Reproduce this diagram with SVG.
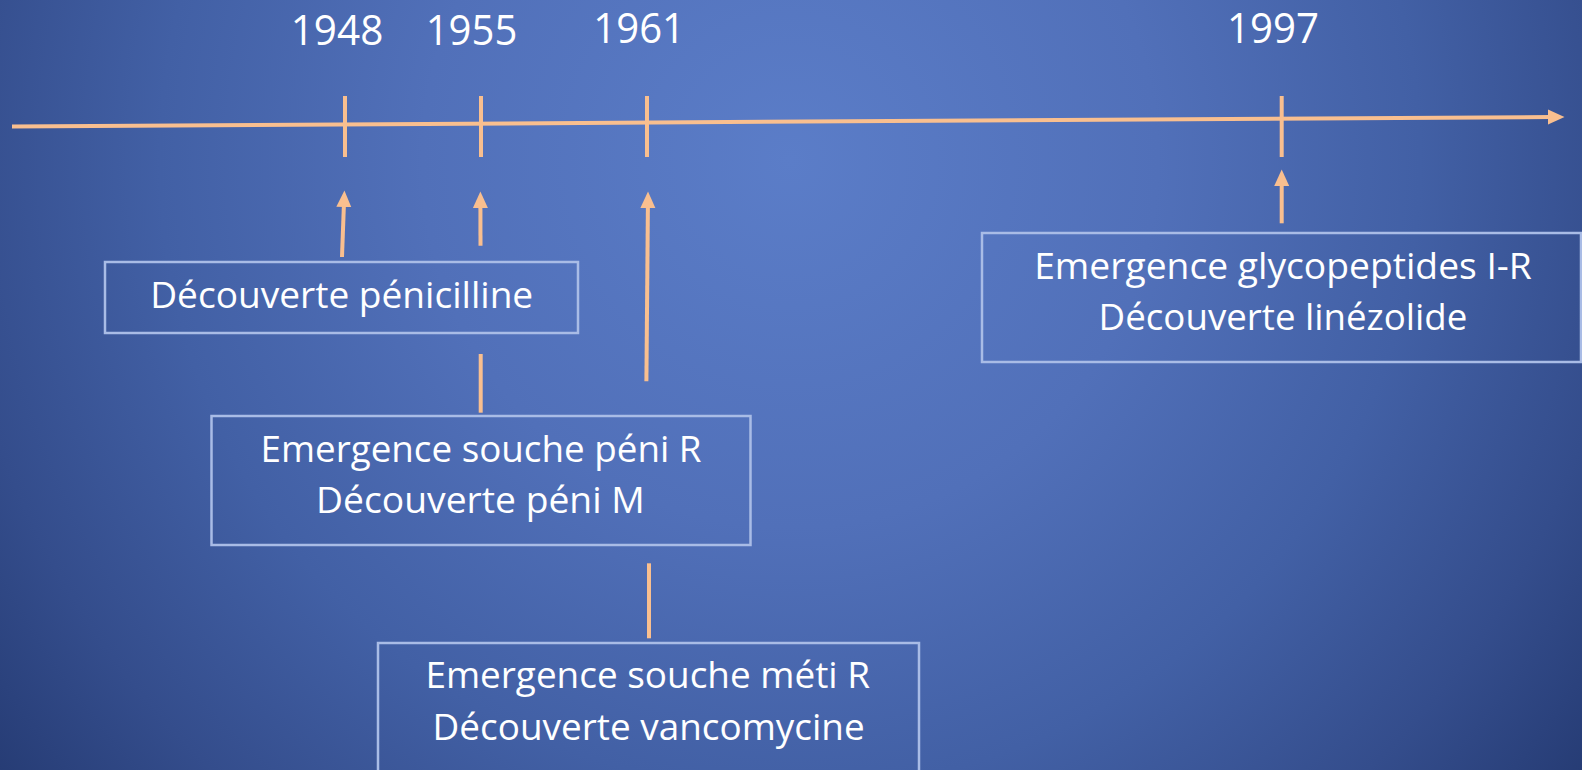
<svg xmlns="http://www.w3.org/2000/svg" width="1582" height="770" viewBox="0 0 1582 770">
  <defs>
    <radialGradient id="bg" gradientUnits="userSpaceOnUse" cx="790" cy="160" r="1050">
      <stop offset="0" stop-color="#5b7dc8"/>
      <stop offset="0.35" stop-color="#5170b9"/>
      <stop offset="0.6" stop-color="#4260a5"/>
      <stop offset="0.8" stop-color="#344d8c"/>
      <stop offset="1" stop-color="#22376e"/>
    </radialGradient>
    <marker id="ah" markerUnits="userSpaceOnUse" markerWidth="17" markerHeight="16" viewBox="0 0 17 16" refX="2" refY="8" orient="auto">
      <path d="M0,0.5 L16.5,8 L0,15.5 Z" fill="#f9bf8f"/>
    </marker>
    <style>
      .yr { font-family: "Open Sans", "Noto Sans", sans-serif; font-size: 42px; fill: #ffffff; }
      .lbl { font-family: "Open Sans", "Noto Sans", sans-serif; font-size: 36px; fill: #ffffff; }
      .box { fill: none; stroke: #a9bce6; stroke-width: 2.5; }
      .ln { stroke: #f9bf8f; stroke-width: 4; fill: none; }
      .arr { stroke: #f9bf8f; stroke-width: 4; fill: none; marker-end: url(#ah); }
    </style>
  </defs>
  <rect x="0" y="0" width="1582" height="770" fill="url(#bg)"/>

  <g id="years">
    <text class="yr" x="290.7" y="45" textLength="92.6" lengthAdjust="spacingAndGlyphs">1948</text>
    <text class="yr" x="425.7" y="45" textLength="91.6" lengthAdjust="spacingAndGlyphs">1955</text>
    <text class="yr" x="593.3" y="43.3" textLength="91.7" lengthAdjust="spacingAndGlyphs">1961</text>
    <text class="yr" x="1227" y="43.3" textLength="92" lengthAdjust="spacingAndGlyphs">1997</text>
  </g>

  <g id="connectors">
    <line class="arr" x1="12" y1="126.5" x2="1550" y2="117"/>
    <line class="ln" x1="345" y1="96" x2="345" y2="157"/>
    <line class="ln" x1="481" y1="96" x2="481" y2="157"/>
    <line class="ln" x1="647" y1="96" x2="647" y2="157"/>
    <line class="ln" x1="1281.7" y1="96" x2="1281.7" y2="157"/>
    <line class="arr" x1="342" y1="257" x2="343.9" y2="205"/>
    <line class="arr" x1="480.5" y1="245.7" x2="480.4" y2="206"/>
    <line class="arr" x1="646.4" y1="381.3" x2="647.9" y2="206"/>
    <line class="arr" x1="1281.7" y1="223.3" x2="1281.7" y2="184"/>
    <line class="ln" x1="480.7" y1="354" x2="480.7" y2="412.7"/>
    <line class="ln" x1="649" y1="563.3" x2="649" y2="638.3"/>
  </g>

  <g id="node-penicilline">
    <rect class="box" x="105" y="262" width="473" height="71"/>
    <text class="lbl" x="150.2" y="308" textLength="383" lengthAdjust="spacingAndGlyphs">Découverte pénicilline</text>
  </g>

  <g id="node-peni-r">
    <rect class="box" x="211.5" y="416" width="539" height="129"/>
    <text class="lbl" x="260.5" y="462" textLength="441" lengthAdjust="spacingAndGlyphs">Emergence souche péni R</text>
    <text class="lbl" x="316.1" y="513" textLength="328.6" lengthAdjust="spacingAndGlyphs">Découverte péni M</text>
  </g>

  <g id="node-meti-r">
    <rect class="box" x="378" y="643" width="541" height="140"/>
    <text class="lbl" x="425.4" y="688" textLength="444.6" lengthAdjust="spacingAndGlyphs">Emergence souche méti R</text>
    <text class="lbl" x="432.6" y="740" textLength="432" lengthAdjust="spacingAndGlyphs">Découverte vancomycine</text>
  </g>

  <g id="node-glycopeptides">
    <rect class="box" x="982" y="233" width="599" height="129"/>
    <text class="lbl" x="1034.2" y="279" textLength="497.6" lengthAdjust="spacingAndGlyphs">Emergence glycopeptides I-R</text>
    <text class="lbl" x="1098.6" y="330" textLength="368.8" lengthAdjust="spacingAndGlyphs">Découverte linézolide</text>
  </g>
</svg>
